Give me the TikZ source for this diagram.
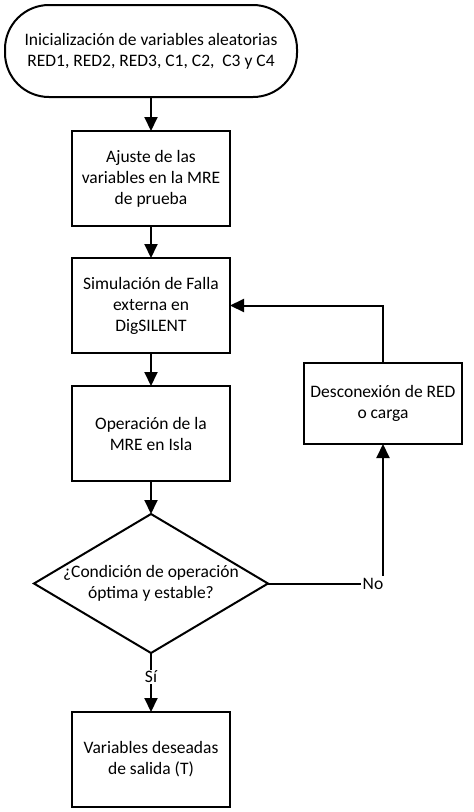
\documentclass[tikz,border=0pt]{standalone}
\usepackage{fontspec}
\setmainfont{Carlito}
\usepackage{tikz}
\usetikzlibrary{positioning, shapes.geometric, arrows.meta}

\begin{document}
\begin{tikzpicture}[x=1pt, y=1pt,
    font=\fontsize{17.5}{21}\selectfont,
    >={Triangle[length=14pt, width=13pt]},
    line width=2pt,
    every node/.style={outer sep=0pt},
    terminal/.style={draw, rectangle, rounded corners=44pt, align=center,
                     minimum width=292pt, minimum height=92pt},
    process/.style={draw, rectangle, align=center,
                    minimum width=158pt, minimum height=95pt},
    decision/.style={draw, diamond, inner sep=0pt,
                     minimum width=234pt, minimum height=139pt}]
    \useasboundingbox (0,0) rectangle (474,-812);
    % Add the blocks
        \node[terminal] (ini) at (151,-51)
              {Inicialización de variables aleatorias\\RED1, RED2, RED3, C1, C2, \ C3 y C4};
        \node[process,
              below=34pt of ini] (ajuste)
              {Ajuste de las\\variables en la MRE\\de prueba};
        \node[process,
              below=32pt of ajuste] (simul)
              {Simulación de Falla\\externa en\\DigSILENT};
        \node[process,
              below=33pt of simul] (oper)
              {Operación de la\\MRE en Isla};
        \node[decision,
              below=33pt of oper,
              label={[align=center]center:¿Condición de operación\\óptima y estable?}] (cond) {};
        \node[process,
              below=59pt of cond] (salida)
              {Variables deseadas\\de salida (T)};
        \node[process,
              minimum height=81pt,
              right=74pt of oper,
              yshift=30pt] (descon)
              {Desconexión de RED\\o carga};

    % Add the connectors
        \draw[->] (ini) -- (ajuste);
        \draw[->] (ajuste) -- (simul);
        \draw[->] (simul) -- (oper);
        \draw[->] (oper) -- (cond);
        \draw[->] (cond) -- node[pos=0.4, fill=white, inner sep=1pt] {Sí} (salida);
        \draw[->] (cond.east) -| node[pos=0.5, xshift=-10pt, fill=white, inner sep=2pt] {No} (descon.south);
        \draw[->] (descon.north) |- (simul.east);
\end{tikzpicture}
\end{document}
